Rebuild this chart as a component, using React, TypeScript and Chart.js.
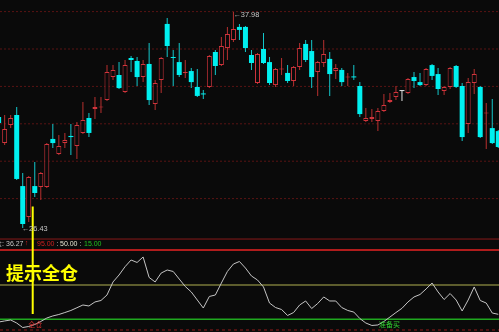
import React, { useEffect, useRef } from "react";
import { Chart, registerables } from "chart.js";

Chart.register(...registerables);

// ---- data ----
const opens = [
  32.36, 30.97, 31.94, 32.47, 28.67, 27.02, 28.67, 28.62, 28.62, 31.19,
  30.38, 30.97, 31.35, 30.81, 31.51, 32.31, 32.79, 32.87, 33.27, 34.5,
  34.61, 33.7, 35.52, 35.36, 34.5, 35.2, 33.06, 34.34, 37.34, 35.57,
  35.3, 34.72, 34.82, 33.97, 33.62, 33.97, 35.84, 35.14, 36.05, 36.48,
  37.18, 37.18, 35.68, 34.18, 36.0, 35.3, 34.07, 34.9, 34.72, 34.29,
  35.04, 36.27, 35.89, 34.77, 35.25, 35.47, 34.82, 34.88, 34.48, 34.53,
  34.02, 32.15, 32.26, 32.15, 32.68, 33.17, 33.43, 33.75, 33.65, 34.5,
  34.23, 34.07, 35.14, 34.66, 33.75, 33.97, 35.09, 34.02, 31.99, 34.18,
  33.97, 32.55, 31.77, 31.61,
];
const highs = [
  32.63, 32.47, 32.47, 32.9, 29.37, 29.21, 29.96, 29.42, 30.97, 31.99,
  31.4, 31.51, 31.99, 32.1, 33.17, 32.58, 33.43, 33.43, 35.14, 35.14,
  35.3, 35.41, 35.63, 35.57, 35.41, 36.32, 34.34, 35.57, 37.66, 35.95,
  36.32, 35.41, 34.98, 34.93, 33.81, 35.68, 35.95, 36.64, 37.18, 37.98,
  37.34, 37.23, 35.95, 35.79, 36.85, 35.57, 34.98, 35.52, 35.14, 35.09,
  36.32, 36.48, 36.48, 35.36, 36.48, 35.84, 35.2, 34.98, 34.72, 35.14,
  34.23, 32.84, 32.79, 32.84, 33.59, 33.65, 34.02, 33.81, 34.45, 34.77,
  34.72, 34.98, 35.2, 34.98, 34.02, 35.04, 35.14, 34.18, 34.45, 34.93,
  34.02, 33.11, 33.33, 31.67,
];
const lows = [
  31.83, 30.87, 31.77, 29.0, 26.43, 26.75, 28.09, 27.92, 28.57, 30.71,
  30.33, 30.71, 30.33, 30.12, 31.45, 31.29, 32.26, 32.58, 33.22, 34.34,
  33.86, 33.65, 34.77, 34.02, 34.23, 33.0, 32.74, 33.65, 35.57, 34.02,
  34.5, 34.45, 33.91, 33.43, 33.33, 33.91, 34.61, 35.09, 35.41, 36.37,
  36.48, 35.84, 34.88, 34.13, 35.2, 34.07, 33.97, 34.61, 34.18, 34.02,
  34.88, 35.3, 33.91, 33.49, 35.04, 33.49, 34.4, 34.02, 34.02, 34.34,
  32.36, 32.1, 32.1, 31.61, 32.63, 33.11, 33.27, 33.22, 33.59, 33.91,
  34.02, 34.02, 34.34, 33.54, 33.54, 33.86, 33.91, 31.08, 31.51, 33.59,
  31.24, 30.65, 30.92, 30.71,
];
const closes = [
  32.04, 31.72, 32.31, 29.05, 26.64, 29.15, 28.3, 29.37, 30.92, 30.97,
  30.81, 31.13, 31.29, 31.94, 32.2, 31.51, 32.9, 32.9, 34.77, 34.88,
  33.91, 35.14, 35.41, 34.5, 35.2, 33.27, 34.18, 35.52, 36.16, 35.52,
  34.61, 34.77, 34.23, 33.49, 33.57, 35.63, 35.09, 36.16, 36.8, 37.07,
  37.02, 36.05, 35.25, 35.73, 35.25, 34.18, 34.93, 34.93, 34.29, 35.04,
  36.05, 35.41, 34.5, 35.3, 35.73, 34.66, 34.98, 34.23, 34.5, 34.48,
  32.52, 32.31, 32.36, 32.68, 33.0, 33.27, 33.7, 33.75, 34.4, 34.29,
  34.07, 34.93, 34.56, 33.86, 33.97, 34.98, 33.97, 31.29, 34.23, 34.66,
  31.29, 32.58, 30.97, 30.76,
];
const indicator = [
  12.2, 13.3, 14.3, 11.2, 6.6, 7.7, 9.7, 12.8, 16.3, 18.4,
  19.9, 21.9, 24.0, 26.8, 29.6, 28.6, 32.7, 34.2, 39.8, 53.1,
  60.2, 68.7, 75.5, 73.0, 78.6, 57.7, 53.1, 62.2, 65.3, 63.8,
  56.1, 48.5, 42.9, 34.7, 26.5, 38.3, 39.8, 52.0, 63.8, 71.4,
  74.0, 67.3, 59.2, 55.1, 48.0, 31.6, 27.0, 25.0, 18.9, 21.9,
  29.6, 33.7, 26.0, 31.1, 37.8, 33.7, 33.7, 27.0, 24.0, 22.4,
  15.8, 11.2, 8.7, 9.2, 12.8, 17.3, 21.9, 26.2, 32.7, 37.8,
  40.3, 45.9, 52.0, 42.9, 35.2, 41.3, 34.7, 23.5, 34.7, 48.0,
  34.2, 31.6, 21.4, 20.1,
];
const gridPrices = [38, 36, 34, 32, 30, 28];
const levelValues = [95, 50, 15];
const levelLabels = ["95.00", "50.00", "15.00"];
const closeLabel = "收盘: 36.27";
const signalIndex = 6.66; // position of the yellow signal bar (between candles 6 and 7)
const signalText = "提示全仓";
const sellMarkText = "全仓";
const sellMarkIndex = 6;
const buyMarkText = "准备买";
const buyMarkIndex = 64;

// ---- scale ranges (panel geometry) ----
const X_MIN = 1.226;
const X_MAX = 84.12;
const PRICE_MIN = 20.866;
const PRICE_MAX = 38.62;
const IND_MIN = 2.041;
const IND_MAX = 340.82;
const MAIN_BOTTOM_IND = 96.9; // main panel bottom border (indicator units)
const SUB_TOP_IND = 85.7; // indicator panel top border
const SUB_BOTTOM_IND = 4.1; // dotted bottom line
const SIGNAL_TOP_IND = 130.1;
const SIGNAL_BOTTOM_IND = 20.4;

const BG = "#0a0a0a";
const UP = "#d0343c";
const UP_WICK = "#b8302f";
const DOWN = "#00f0f0";
const DOWN_WICK = "#14c8cc";
const FLAT = "#e0e0e0";
const FONT = '"Liberation Sans", "DejaVu Sans", sans-serif';
const CJK = '"Noto Sans CJK SC", sans-serif';

const dirs = opens.map((o, i) => (closes[i] > o ? "up" : closes[i] < o ? "down" : "flat"));

function hLine(v: number, color: string, width: number, axis: string, dash: number[] = [], order = 5) {
  return {
    type: "line" as const,
    data: [
      { x: X_MIN, y: v },
      { x: X_MAX, y: v },
    ],
    borderColor: color,
    borderWidth: width,
    borderDash: dash,
    pointRadius: 0,
    yAxisID: axis,
    order,
  };
}

const overlayPlugin = {
  id: "overlay",
  beforeDraw(chart: any) {
    const { ctx, width, height } = chart;
    ctx.save();
    ctx.fillStyle = BG;
    ctx.fillRect(0, 0, width, height);
    ctx.restore();
  },
  afterDatasetsDraw(chart: any) {
    const { ctx } = chart;
    const xs = chart.scales.x;
    const ys = chart.scales.y;
    ctx.save();
    ctx.textBaseline = "middle";
    ctx.font = `7.4px ${FONT}`;

    // highest / lowest markers
    const hiVal = Math.max(...highs);
    const hi = highs.indexOf(hiVal);
    const loVal = Math.min(...lows);
    const lo = lows.indexOf(loVal);
    ctx.fillStyle = "#c8c8c8";
    ctx.textAlign = "left";
    ctx.fillText("←" + hiVal.toFixed(2), xs.getPixelForValue(hi + 1), ys.getPixelForValue(hiVal) + 3);
    ctx.fillText("←" + loVal.toFixed(2), xs.getPixelForValue(lo + 1) - 1, ys.getPixelForValue(loVal) + 1);

    // info row
    const rowY = 244.5;
    ctx.font = `7px ${FONT}`;
    ctx.textAlign = "right";
    ctx.fillStyle = "#c8c8c8";
    ctx.fillText(closeLabel, 23.5, rowY);
    ctx.textAlign = "center";
    ctx.fillStyle = "#e02020";
    ctx.fillText("↑", 26.5, rowY - 1);
    ctx.textAlign = "left";
    const cols = ["#d02020", "#e6e6d2", "#20c020"];
    const xsRow = [37, 60, 84];
    const colonX = [56.5, 79.5];
    levelLabels.forEach((t, k) => {
      ctx.fillStyle = cols[k];
      ctx.fillText(t, xsRow[k], rowY);
      if (k < colonX.length) {
        ctx.fillStyle = "#c8c8c8";
        ctx.fillText(":", colonX[k], rowY);
      }
    });

    // signal text
    ctx.font = `bold 18px ${CJK}`;
    ctx.fillStyle = "#ffff00";
    ctx.textAlign = "left";
    ctx.fillText(signalText, 6, 273.5);

    // small marks in the indicator panel
    ctx.font = `7px ${CJK}`;
    ctx.fillStyle = "#d83030";
    ctx.fillText(sellMarkText, xs.getPixelForValue(sellMarkIndex) - 0.5, 324.5);
    ctx.fillStyle = "#30d030";
    ctx.fillText(buyMarkText, xs.getPixelForValue(buyMarkIndex) + 1, 324);
    ctx.restore();
  },
};

export default function App() {
  const ref = useRef<HTMLCanvasElement | null>(null);

  useEffect(() => {
    document.body.style.margin = "0";
    document.body.style.background = BG;
    const canvas = ref.current;
    if (!canvas) return;

    const bodyData = opens.map((o, i) => ({ x: i + 1, y: [o, closes[i]] }));
    const wickData = lows.map((l, i) => ({ x: i + 1, y: [l, highs[i]] }));

    const datasets: any[] = [
      ...gridPrices.map((p) => hLine(p, "#5a1414", 1, "y", [2, 2], 9)),
      hLine(MAIN_BOTTOM_IND, "#8a1a1a", 1, "y2", [], 8),
      hLine(SUB_TOP_IND, "#b01c1c", 2, "y2", [], 8),
      hLine(SUB_BOTTOM_IND, "#901a1a", 1, "y2", [3, 3], 8),
      hLine(levelValues[1], "#b0b050", 1, "y2", [], 7),
      hLine(levelValues[2], "#1fa81f", 1.5, "y2", [], 7),
      {
        type: "bar",
        data: wickData,
        backgroundColor: dirs.map((d) => (d === "up" ? UP_WICK : d === "down" ? DOWN_WICK : FLAT)),
        borderWidth: 0,
        barThickness: 1,
        grouped: false,
        inflateAmount: 0,
        yAxisID: "y",
        order: 3,
      },
      {
        type: "bar",
        data: bodyData,
        backgroundColor: dirs.map((d) => (d === "up" ? BG : d === "down" ? DOWN : FLAT)),
        borderColor: dirs.map((d) => (d === "up" ? UP : d === "down" ? DOWN : FLAT)),
        borderWidth: dirs.map((d) => (d === "up" ? 1 : 0)),
        borderSkipped: false,
        barThickness: 5,
        minBarLength: 1,
        grouped: false,
        inflateAmount: 0,
        yAxisID: "y",
        order: 2,
      },
      {
        type: "line",
        data: indicator.map((v, i) => ({ x: i + 1, y: v })),
        borderColor: "#c4c4c4",
        borderWidth: 1,
        pointRadius: 0,
        tension: 0,
        yAxisID: "y2",
        order: 1,
      },
      {
        type: "line",
        data: [
          { x: signalIndex, y: SIGNAL_TOP_IND },
          { x: signalIndex, y: SIGNAL_BOTTOM_IND },
        ],
        borderColor: "#ffff00",
        borderWidth: 2,
        pointRadius: 0,
        yAxisID: "y2",
        order: 0,
      },
    ];

    const chart = new Chart(canvas, {
      type: "bar",
      data: { datasets },
      options: {
        responsive: false,
        animation: false,
        devicePixelRatio: 1,
        events: [],
        layout: { padding: 0 },
        plugins: { legend: { display: false }, tooltip: { enabled: false } },
        scales: {
          x: { type: "linear", min: X_MIN, max: X_MAX, display: false, offset: false },
          y: { type: "linear", min: PRICE_MIN, max: PRICE_MAX, display: false },
          y2: { type: "linear", min: IND_MIN, max: IND_MAX, display: false },
        },
      } as any,
      plugins: [overlayPlugin],
    } as any);

    return () => chart.destroy();
  }, []);

  return (
    <div style={{ width: 499, height: 332, background: BG }}>
      <canvas ref={ref} width={499} height={332} style={{ display: "block" }} />
    </div>
  );
}
